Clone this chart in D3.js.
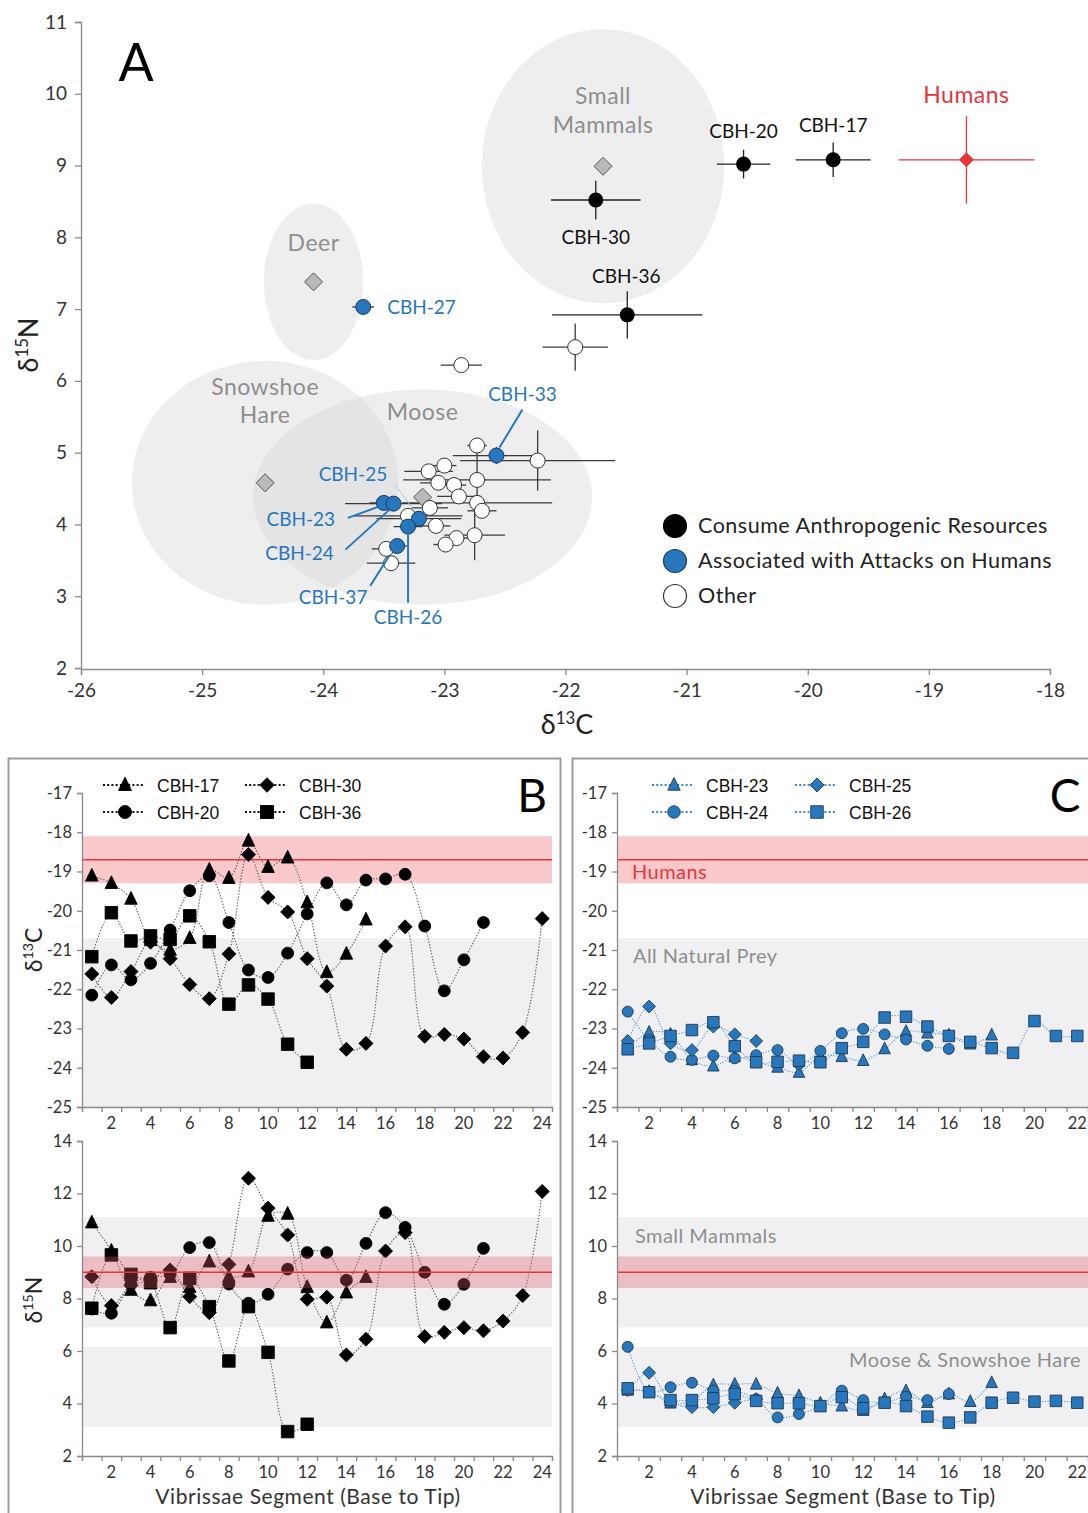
<!DOCTYPE html>
<html lang="en">
<head>
<meta charset="UTF-8" />
<script src="https://d3js.org/d3.v7.min.js"></script>
<title>Wolf isotopes</title>
<style>
  body { margin: 0; background: #fff; }
  text { font-family: Lato, "Noto Sans", sans-serif; }
</style>
</head>
<body>
<script>
// ---------- panel A : wolf means (± SD) ----------
var anthroIds  = ["CBH-17", "CBH-20", "CBH-30", "CBH-36"];
var anthroC    = [-19.79, -20.53, -21.75, -21.49];
var anthroN    = [9.08, 9.02, 8.52, 6.92];
var anthroCsd  = [0.31, 0.22, 0.37, 0.62];
var anthroNsd  = [0.24, 0.20, 0.27, 0.33];

var attackIds  = ["CBH-27", "CBH-33", "CBH-23", "CBH-24", "CBH-25", "CBH-26", "CBH-37"];
var attackC    = [-23.67, -22.57, -23.50, -23.42, -23.21, -23.30, -23.39];
var attackN    = [7.03, 4.96, 4.30, 4.29, 4.08, 3.97, 3.70];
var attackCsd  = [0.09, 0.36, 0.12, 0.40, 0.35, 0.12, 0.08];
var attackNsd  = [0.04, 0.12, 0.04, 0.04, 0.04, 0.05, 0.04];

var otherC   = [-22.86, -21.92, -22.73, -22.23, -23.00, -23.13, -22.73, -23.05, -22.92, -22.88,
                -22.73, -22.69, -23.12, -23.30, -23.07, -22.90, -22.99, -22.75, -23.48, -23.44];
var otherN   = [6.22, 6.47, 5.10, 4.89, 4.82, 4.74, 4.62, 4.58, 4.55, 4.39,
                4.30, 4.19, 4.23, 4.12, 3.98, 3.81, 3.72, 3.85, 3.66, 3.46];
var otherCsd = [0.17, 0.27, 0.08, 0.64, 0.10, 0.20, 0.61, 0.15, 0.10, 0.18,
                0.62, 0.12, 0.15, 0.45, 0.12, 0.10, 0.10, 0.25, 0.12, 0.20];
var otherNsd = [0.04, 0.33, 0.04, 0.42, 0.04, 0.04, 0.48, 0.04, 0.04, 0.04,
                0.10, 0.04, 0.04, 0.04, 0.04, 0.04, 0.04, 0.35, 0.04, 0.04];

var humanC = -18.69, humanN = 9.08, humanCsd = 0.56, humanNsd = 0.61;

var preyNames = ["Small Mammals", "Deer", "Snowshoe Hare", "Moose"];
var preyC     = [-21.69, -24.08, -24.48, -23.18];
var preyN     = [8.99, 7.38, 4.58, 4.38];
var preyCsd   = [1.00, 0.41, 1.10, 1.40];
var preyNsd   = [1.91, 1.09, 1.70, 1.50];

var legendA = ["Consume Anthropogenic Resources", "Associated with Attacks on Humans", "Other"];

// ---------- panels B & C : vibrissae segments ----------
var c17C = [-19.11, -19.30, -19.70, -20.75, -21.00, -20.70, -18.96, -19.17, -18.22, -18.89, -18.65, -19.79, -21.57, -21.10, -20.23];
var c20C = [-22.15, -21.38, -21.76, -21.34, -20.49, -19.49, -19.11, -20.30, -21.51, -21.70, -21.08, -20.08, -19.29, -19.85, -19.22, -19.19, -19.07, -20.39, -22.04, -21.25, -20.30];
var c30C = [-21.61, -22.21, -21.55, -20.80, -21.22, -21.88, -22.24, -21.10, -18.57, -19.66, -20.03, -21.22, -21.92, -23.53, -23.38, -20.90, -20.41, -23.20, -23.15, -23.27, -23.72, -23.75, -23.10, -20.20];
var c36C = [-21.17, -20.05, -20.77, -20.64, -20.73, -20.13, -20.79, -22.38, -21.89, -22.25, -23.40, -23.86];

var c17N = [10.89, 9.81, 8.32, 7.92, 8.81, 8.43, 9.40, 8.83, 9.02, 11.14, 11.22, 8.43, 7.08, 8.22, 8.81];
var c20N = [7.60, 7.44, 8.55, 8.81, 8.92, 9.94, 10.13, 8.55, 7.82, 8.16, 9.12, 9.75, 9.75, 8.70, 10.10, 11.27, 10.71, 9.00, 7.78, 8.54, 9.91];
var c30N = [8.83, 7.73, 8.50, 8.70, 9.09, 8.07, 7.46, 9.30, 12.58, 11.44, 10.42, 7.97, 8.05, 5.85, 6.45, 9.81, 10.51, 6.55, 6.71, 6.89, 6.77, 7.14, 8.11, 12.08];
var c36N = [7.63, 9.66, 8.92, 8.60, 6.89, 8.77, 7.69, 5.62, 7.69, 5.95, 2.93, 3.21];

var c23C = [-23.50, -23.10, -23.15, -23.80, -23.96, -23.72, -23.86, -23.99, -24.12, -23.70, -23.72, -23.82, -23.52, -23.08, -23.12, -23.17, -23.40, -23.17];
var c24C = [-22.57, -23.30, -23.72, -23.80, -23.69, -23.76, -23.68, -23.55, -23.90, -23.57, -23.12, -23.01, -23.15, -23.28, -23.44, -23.52];
var c25C = [-23.32, -22.44, -23.38, -23.55, -22.95, -23.15, -23.32];
var c26C = [-23.53, -23.38, -23.19, -23.04, -22.84, -23.45, -23.86, -23.85, -23.82, -23.86, -23.50, -23.34, -22.72, -22.70, -22.95, -23.19, -23.34, -23.50, -23.62, -22.81, -23.19, -23.19];

var c23N = [4.50, 4.45, 4.01, 4.10, 4.70, 4.73, 4.73, 4.39, 4.29, 4.01, 3.90, 3.73, 4.17, 4.48, 4.03, 4.36, 4.07, 4.79];
var c24N = [6.16, 4.45, 4.62, 4.79, 4.49, 4.48, 4.16, 3.47, 3.60, 3.90, 4.49, 4.13, 4.03, 4.26, 4.13, 4.36];
var c25N = [4.51, 5.17, 4.07, 3.86, 3.86, 4.03, 4.17];
var c26N = [4.58, 4.43, 4.13, 4.13, 4.20, 4.36, 4.10, 4.01, 4.01, 3.90, 4.24, 3.82, 4.03, 3.90, 3.50, 3.27, 3.47, 4.03, 4.22, 4.07, 4.10, 4.03];

// reference bands
var humanBandC = [-19.3, -18.1], humanLineC = -18.7;
var preyBandC  = [-25, -20.7];
var humanBandN = [8.4, 9.6], humanLineN = 9.0;
var smallMamBandN = [6.9, 11.1];
var mooseHareBandN = [3.1, 6.15];

var ticksC = [-17, -18, -19, -20, -21, -22, -23, -24, -25];
var ticksN = [14, 12, 10, 8, 6, 4, 2];

// ---------------------------------------------------------
var W = 1088, H = 1513;
var svg = d3.select("body").append("svg").attr("width", W).attr("height", H);

var RED = "#e8353a", BLUE = "#2677bd", GREY_TXT = "#8e8e8e";

function styleAxis(g, fs) {
  g.select(".domain").attr("stroke", "#8a8a8a").attr("stroke-width", 1.3);
  g.selectAll(".tick line").attr("stroke", "#8a8a8a").attr("stroke-width", 1.3);
  g.selectAll(".tick text").attr("fill", "#333").style("font-size", fs + "px")
    .style("font-family", "Lato, sans-serif");
}

function deltaLabel(g, x, y, sup, el, fs, rot) {
  var t = g.append("text").attr("text-anchor", "middle").style("font-size", fs + "px").attr("fill", "#222")
    .attr("transform", "translate(" + x + "," + y + ")" + (rot ? " rotate(-90)" : ""));
  t.append("tspan").text("δ");
  t.append("tspan").attr("dy", -fs * 0.38).style("font-size", (fs * 0.62) + "px").text(sup);
  t.append("tspan").attr("dy", fs * 0.38).text(el);
}

// ===================== PANEL A =====================
var xA = d3.scaleLinear().domain([-26, -18]).range([81, 1050]);
var yA = d3.scaleLinear().domain([2, 11]).range([668, 22]);
var gA = svg.append("g");

// prey ellipses
gA.selectAll("ellipse.prey").data(preyNames).enter().append("ellipse")
  .attr("cx", function(d, i) { return xA(preyC[i]); })
  .attr("cy", function(d, i) { return yA(preyN[i]); })
  .attr("rx", function(d, i) { return xA(preyC[i] + preyCsd[i]) - xA(preyC[i]); })
  .attr("ry", function(d, i) { return yA(preyN[i]) - yA(preyN[i] + preyNsd[i]); })
  .attr("fill", "#d6d6d6").attr("fill-opacity", 0.42);

// prey labels (pixel offsets from ellipse centre)
var preyLab = {
  "Small Mammals": [["Small", 0, -62], ["Mammals", 0, -33]],
  "Deer": [["Deer", 0, -31]],
  "Snowshoe Hare": [["Snowshoe", 0, -88], ["Hare", 0, -60]],
  "Moose": [["Moose", 0, -77]]
};
preyNames.forEach(function(name, i) {
  preyLab[name].forEach(function(l) {
    gA.append("text").attr("x", xA(preyC[i]) + l[1]).attr("y", yA(preyN[i]) + l[2])
      .attr("text-anchor", "middle").attr("fill", GREY_TXT).style("font-size", "23px")
      .style("letter-spacing", "0.5px").text(l[0]);
  });
});

// axes
var axA_y = gA.append("g").attr("transform", "translate(81,0)")
  .call(d3.axisLeft(yA).tickValues(d3.range(2, 12)).tickSize(6).tickPadding(8).tickFormat(d3.format("d")));
styleAxis(axA_y, 19);
var axA_x = gA.append("g").attr("transform", "translate(0,669)")
  .call(d3.axisBottom(xA).tickValues(d3.range(-26, -17)).tickSize(6).tickPadding(9).tickFormat(function(d) { return String(d); }));
styleAxis(axA_x, 19);
deltaLabel(gA, 567, 734, "13", "C", 27, false);
deltaLabel(gA, 38, 345, "15", "N", 27, true);
gA.append("text").attr("x", 136).attr("y", 81).attr("text-anchor", "middle").style("font-size", "52px").attr("fill", "#000").text("A");

// error bars
function errBars(cArr, nArr, csd, nsd, col) {
  cArr.forEach(function(c, i) {
    gA.append("line").attr("x1", xA(c - csd[i])).attr("x2", xA(c + csd[i]))
      .attr("y1", yA(nArr[i])).attr("y2", yA(nArr[i])).attr("stroke", col).attr("stroke-width", 1.3);
    gA.append("line").attr("x1", xA(c)).attr("x2", xA(c))
      .attr("y1", yA(nArr[i] - nsd[i])).attr("y2", yA(nArr[i] + nsd[i])).attr("stroke", col).attr("stroke-width", 1.3);
  });
}
errBars(otherC, otherN, otherCsd, otherNsd, "#3a3a3a");
errBars(attackC, attackN, attackCsd, attackNsd, "#3a3a3a");
errBars(anthroC, anthroN, anthroCsd, anthroNsd, "#222");
errBars([humanC], [humanN], [humanCsd], [humanNsd], RED);

// prey diamonds
function diamond(h) { return "M0," + (-h) + "L" + h + ",0L0," + h + "L" + (-h) + ",0Z"; }
gA.selectAll("path.preyPt").data(preyNames).enter().append("path")
  .attr("d", diamond(9))
  .attr("transform", function(d, i) { return "translate(" + xA(preyC[i]) + "," + yA(preyN[i]) + ")"; })
  .attr("fill", "#b9b9b9").attr("stroke", "#555").attr("stroke-width", 1);
gA.append("path").attr("d", diamond(7.5))
  .attr("transform", "translate(" + xA(humanC) + "," + yA(humanN) + ")").attr("fill", RED);

// wolf points
gA.selectAll("circle.other").data(otherC).enter().append("circle")
  .attr("cx", function(d) { return xA(d); }).attr("cy", function(d, i) { return yA(otherN[i]); })
  .attr("r", 7.5).attr("fill", "#fff").attr("stroke", "#333").attr("stroke-width", 1);

// blue labels & leader lines (label pos and leader end in pixel offsets from point)
var attackLab = {
  "CBH-27": { t: [24, 7, "start"] },
  "CBH-33": { t: [26, -55, "middle"], l: [26, -46, 3, -8] },
  "CBH-23": { t: [-83, 23, "middle"], l: [-36, 15, -3, 3] },
  "CBH-24": { t: [-94, 56, "middle"], l: [-48, 46, -4, 6] },
  "CBH-25": { t: [-66, -38, "middle"], l: [-24, -34, -6, -10], faint: true },
  "CBH-26": { t: [0, 97, "middle"], l: [0, 76, 0, 8] },
  "CBH-37": { t: [-64, 58, "middle"], l: [-27, 40, -8, 10] }
};
attackIds.forEach(function(id, i) {
  var px = xA(attackC[i]), py = yA(attackN[i]), o = attackLab[id];
  if (o.l) {
    gA.append("line").attr("x1", px + o.l[0]).attr("y1", py + o.l[1]).attr("x2", px + o.l[2]).attr("y2", py + o.l[3])
      .attr("stroke", o.faint ? "#a9c9e6" : BLUE).attr("stroke-width", o.faint ? 1 : 2);
  }
});
gA.selectAll("circle.attack").data(attackC).enter().append("circle")
  .attr("cx", function(d) { return xA(d); }).attr("cy", function(d, i) { return yA(attackN[i]); })
  .attr("r", 7.5).attr("fill", BLUE).attr("stroke", "#1b3c5e").attr("stroke-width", 1);
attackIds.forEach(function(id, i) {
  var px = xA(attackC[i]), py = yA(attackN[i]), o = attackLab[id];
  gA.append("text").attr("x", px + o.t[0]).attr("y", py + o.t[1]).attr("text-anchor", o.t[2])
    .attr("fill", BLUE).style("font-size", "19px").text(id);
});

gA.selectAll("circle.anthro").data(anthroC).enter().append("circle")
  .attr("cx", function(d) { return xA(d); }).attr("cy", function(d, i) { return yA(anthroN[i]); })
  .attr("r", 7.5).attr("fill", "#000");
var anthroLab = { "CBH-17": [0, -28], "CBH-20": [0, -26], "CBH-30": [0, 44], "CBH-36": [-1, -32] };
anthroIds.forEach(function(id, i) {
  gA.append("text").attr("x", xA(anthroC[i]) + anthroLab[id][0]).attr("y", yA(anthroN[i]) + anthroLab[id][1])
    .attr("text-anchor", "middle").attr("fill", "#111").style("font-size", "19px").text(id);
});
gA.append("text").attr("x", xA(humanC)).attr("y", yA(humanN) - 57).attr("text-anchor", "middle")
  .attr("fill", RED).style("font-size", "23px").style("letter-spacing", "0.5px").text("Humans");

// legend A
var legFill = ["#000", BLUE, "#fff"], legStroke = ["#000", "#1b3c5e", "#333"];
legendA.forEach(function(t, i) {
  var ly = 526 + i * 35;
  gA.append("circle").attr("cx", 675).attr("cy", ly).attr("r", 11.5)
    .attr("fill", legFill[i]).attr("stroke", legStroke[i]).attr("stroke-width", 1.2);
  gA.append("text").attr("x", 698).attr("y", ly + 7).attr("fill", "#222").style("font-size", "21.5px")
    .style("letter-spacing", "0.5px").text(t);
});

// ===================== PANELS B & C =====================
svg.append("rect").attr("x", 8.5).attr("y", 758.5).attr("width", 552).attr("height", 800)
  .attr("fill", "none").attr("stroke", "#9b9b9b").attr("stroke-width", 2);
svg.append("rect").attr("x", 572.5).attr("y", 758.5).attr("width", 530).attr("height", 800)
  .attr("fill", "none").attr("stroke", "#9b9b9b").attr("stroke-width", 2);

var yTop = d3.scaleLinear().domain([-25, -17]).range([1107, 793]);
var yBot = d3.scaleLinear().domain([2, 14]).range([1456, 1141]);
var xB = d3.scaleLinear().domain([0.5, 24.5]).range([82, 552]);
var xC = d3.scaleLinear().domain([0.5, 22.5]).range([617, 1088]);

function shapePath(shape, s) {
  if (shape === "tri") return "M0," + (-s * 0.6) + "L" + (s / 2) + "," + (s * 0.42) + "L" + (-s / 2) + "," + (s * 0.42) + "Z";
  if (shape === "sq") return "M" + (-s / 2) + "," + (-s / 2) + "h" + s + "v" + s + "h" + (-s) + "Z";
  if (shape === "dia") return diamond(s * 0.56);
  var r = s / 2;
  return "M" + r + ",0A" + r + "," + r + " 0 1,1 " + (-r) + ",0A" + r + "," + r + " 0 1,1 " + r + ",0Z";
}

function bandRect(g, x, y, lo, hi, fill, op) {
  var r = x.range();
  g.append("rect").attr("x", r[0]).attr("width", r[1] - r[0])
    .attr("y", y(hi)).attr("height", y(lo) - y(hi)).attr("fill", fill).attr("fill-opacity", op);
}
function hLine(g, x, y, v) {
  var r = x.range();
  g.append("line").attr("x1", r[0]).attr("x2", r[1]).attr("y1", y(v)).attr("y2", y(v))
    .attr("stroke", RED).attr("stroke-width", 1.6);
}

function axes(g, x, y, yTicks, maxSeg) {
  var r = x.range(), d = y.range();
  var ay = g.append("g").attr("transform", "translate(" + r[0] + ",0)")
    .call(d3.axisLeft(y).tickValues(yTicks).tickSize(5).tickPadding(5).tickFormat(function(v) { return String(v); }));
  styleAxis(ay, 16.5);
  var ax = g.append("g").attr("transform", "translate(0," + d[0] + ")")
    .call(d3.axisBottom(x).tickValues(d3.range(0.5, maxSeg + 1, 1)).tickSize(5).tickFormat(""));
  styleAxis(ax, 16.5);
  g.selectAll("text.seg").data(d3.range(2, maxSeg + 1, 2)).enter().append("text")
    .attr("x", function(v) { return x(v); }).attr("y", d[0] + 22).attr("text-anchor", "middle")
    .attr("fill", "#333").style("font-size", "16.5px").text(function(v) { return v; });
}

function drawSeries(g, x, y, list, lineCol, dash, fill, stroke, sz) {
  var line = d3.line().x(function(d, i) { return x(i + 1); }).y(function(d) { return y(d); })
    .curve(d3.curveCatmullRom.alpha(0.5));
  list.forEach(function(s) {
    g.append("path").datum(s.v).attr("d", line).attr("fill", "none")
      .attr("stroke", lineCol).attr("stroke-width", 1.1).attr("stroke-dasharray", dash);
  });
  list.forEach(function(s) {
    g.selectAll(null).data(s.v).enter().append("path")
      .attr("d", shapePath(s.shape, s.shape === "cir" ? sz * 0.95 : sz))
      .attr("transform", function(d, i) { return "translate(" + x(i + 1) + "," + y(d) + ")"; })
      .attr("fill", fill).attr("stroke", stroke).attr("stroke-width", 0.9);
  });
}

function legend(g, items, x0s, lineCol, fill, stroke, sz) {
  items.forEach(function(it, i) {
    var col = Math.floor(i / 2), row = i % 2;
    var lx = x0s[col], ly = 785 + row * 27;
    g.append("line").attr("x1", lx).attr("x2", lx + 42).attr("y1", ly).attr("y2", ly)
      .attr("stroke", lineCol).attr("stroke-width", 2.2).attr("stroke-dasharray", "2,2.2");
    g.append("path").attr("d", shapePath(it.shape, sz)).attr("transform", "translate(" + (lx + 22) + "," + ly + ")")
      .attr("fill", fill).attr("stroke", stroke).attr("stroke-width", 0.9);
    g.append("text").attr("x", lx + 54).attr("y", ly + 6.5).attr("fill", "#111")
      .style("font-family", "'Liberation Sans', Arial, sans-serif").style("font-size", "17.5px").text(it.name);
  });
}

function note(g, x, y, txt, col, anchor) {
  g.append("text").attr("x", x).attr("y", y).attr("text-anchor", anchor || "start").attr("fill", col)
    .style("font-size", "20px").style("letter-spacing", "0.45px").text(txt);
}

// ---- panel B ----
var gB = svg.append("g");
var serB_C = [{ name: "CBH-17", shape: "tri", v: c17C }, { name: "CBH-20", shape: "cir", v: c20C },
              { name: "CBH-30", shape: "dia", v: c30C }, { name: "CBH-36", shape: "sq", v: c36C }];
var serB_N = [{ shape: "tri", v: c17N }, { shape: "cir", v: c20N }, { shape: "dia", v: c30N }, { shape: "sq", v: c36N }];

bandRect(gB, xB, yTop, preyBandC[0], preyBandC[1], "#f0f0f2", 1);
bandRect(gB, xB, yTop, humanBandC[0], humanBandC[1], "#f9c9cc", 1);
hLine(gB, xB, yTop, humanLineC);
drawSeries(gB, xB, yTop, serB_C, "#555", "1.3,1.7", "#000", "#000", 12.5);
axes(gB, xB, yTop, ticksC, 24);

bandRect(gB, xB, yBot, smallMamBandN[0], smallMamBandN[1], "#f0f0f2", 1);
bandRect(gB, xB, yBot, mooseHareBandN[0], mooseHareBandN[1], "#f0f0f2", 1);
drawSeries(gB, xB, yBot, serB_N, "#555", "1.3,1.7", "#000", "#000", 12.5);
bandRect(gB, xB, yBot, humanBandN[0], humanBandN[1], "#e45560", 0.33);
hLine(gB, xB, yBot, humanLineN);
axes(gB, xB, yBot, ticksN, 24);

legend(gB, serB_C, [103, 245], "#111", "#000", "#000", 13);
gB.append("text").attr("x", 532).attr("y", 812).attr("text-anchor", "middle").style("font-size", "46px").attr("fill", "#000").text("B");
deltaLabel(gB, 42, 950, "13", "C", 23, true);
deltaLabel(gB, 42, 1300, "15", "N", 23, true);
gB.append("text").attr("x", 308).attr("y", 1504).attr("text-anchor", "middle").attr("fill", "#333")
  .style("font-size", "21px").style("letter-spacing", "0.55px").text("Vibrissae Segment (Base to Tip)");

// ---- panel C ----
var gC = svg.append("g");
var serC_C = [{ name: "CBH-23", shape: "tri", v: c23C }, { name: "CBH-24", shape: "cir", v: c24C },
              { name: "CBH-25", shape: "dia", v: c25C }, { name: "CBH-26", shape: "sq", v: c26C }];
var serC_N = [{ shape: "tri", v: c23N }, { shape: "cir", v: c24N }, { shape: "dia", v: c25N }, { shape: "sq", v: c26N }];

bandRect(gC, xC, yTop, preyBandC[0], preyBandC[1], "#f0f0f2", 1);
bandRect(gC, xC, yTop, humanBandC[0], humanBandC[1], "#f9c9cc", 1);
hLine(gC, xC, yTop, humanLineC);
drawSeries(gC, xC, yTop, serC_C, "#5f9fd6", "1.3,1.5", BLUE, "#23384e", 11.5);
axes(gC, xC, yTop, ticksC, 22);

bandRect(gC, xC, yBot, smallMamBandN[0], smallMamBandN[1], "#f0f0f2", 1);
bandRect(gC, xC, yBot, mooseHareBandN[0], mooseHareBandN[1], "#f0f0f2", 1);
bandRect(gC, xC, yBot, humanBandN[0], humanBandN[1], "#e45560", 0.33);
hLine(gC, xC, yBot, humanLineN);
drawSeries(gC, xC, yBot, serC_N, "#5f9fd6", "1.3,1.5", BLUE, "#23384e", 11.5);
axes(gC, xC, yBot, ticksN, 22);

legend(gC, serC_C, [652, 795], "#3d86c6", BLUE, "#23384e", 12.5);
gC.append("text").attr("x", 1065).attr("y", 812).attr("text-anchor", "middle").style("font-size", "46px").attr("fill", "#000").text("C");
note(gC, 632, yTop(-19) + 7, "Humans", RED);
note(gC, 633, yTop(-21.15) + 7, "All Natural Prey", GREY_TXT);
note(gC, 635, yBot(10.4) + 7, "Small Mammals", GREY_TXT);
note(gC, 1081, yBot(5.65) + 7, "Moose & Snowshoe Hare", GREY_TXT, "end");
gC.append("text").attr("x", 843).attr("y", 1504).attr("text-anchor", "middle").attr("fill", "#333")
  .style("font-size", "21px").style("letter-spacing", "0.55px").text("Vibrissae Segment (Base to Tip)");
</script>
</body>
</html>
